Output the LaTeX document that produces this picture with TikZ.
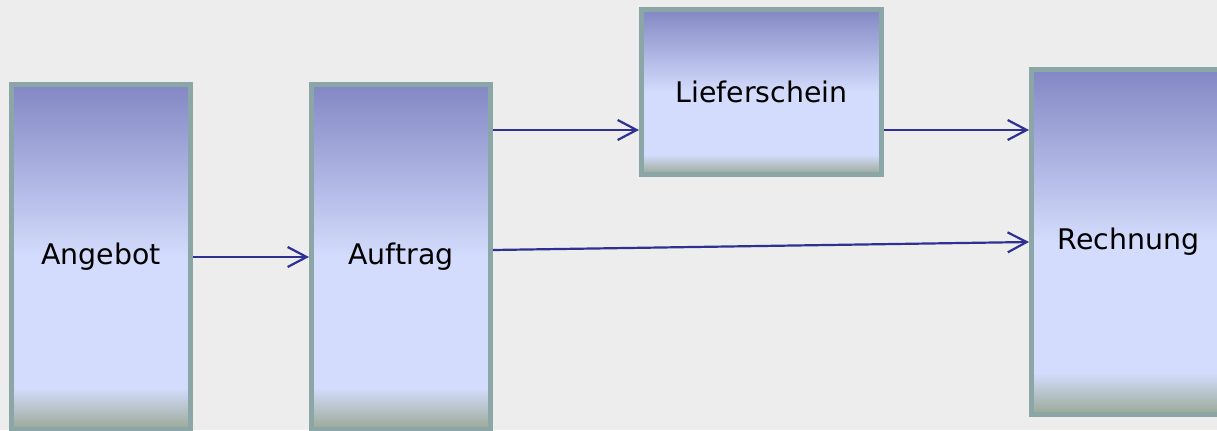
\documentclass[tikz,border=0pt]{standalone}
\usepackage{fontspec}
\setmainfont{DejaVu Sans}
\usetikzlibrary{arrows.meta}

\definecolor{sfondo}{HTML}{EDEDED}
\definecolor{bordo}{HTML}{8AA6A6}
\definecolor{freccia}{HTML}{2E3192}
\definecolor{cima}{HTML}{8387C4}
\definecolor{chiaro}{HTML}{D3DCFC}
\definecolor{fondo}{HTML}{9AA896}

% sfumatura dei riquadri: viola in alto, chiaro al centro, verde-grigio in basso
\pgfdeclareverticalshading{documento}{100bp}{color(0bp)=(fondo); color(25bp)=(fondo);
  color(31bp)=(chiaro); color(50bp)=(chiaro); color(75bp)=(cima); color(100bp)=(cima)}

\tikzset{
  doc/.style={draw=bordo, line width=2.5pt, shading=documento, inner sep=0pt,
    minimum width=89.5pt, minimum height=172.5pt,
    font=\fontsize{14.2}{17}\selectfont},
  flusso/.style={draw=freccia, line width=1.1pt, -{Straight Barb[length=9.5pt,width=10pt]}}
}

\begin{document}
\begin{tikzpicture}[x=1pt, y=1pt]
        % Sfondo
        \useasboundingbox (0,0) rectangle (608.5,215);
        \clip (0,0) rectangle (608.5,215);
        \fill[sfondo] (0,0) rectangle (608.5,215);

        % Documenti
        \node[doc] (Angebot) at (50.5,86.5) {Angebot};
        \node[doc] (Auftrag) at (200.5,86.5) {Auftrag};
        \node[doc, minimum width=120pt, minimum height=82.5pt] (Lieferschein) at (380.75,169) {Lieferschein};
        \node[doc, minimum width=97pt] (Rechnung) at (564.25,94) {Rechnung};

        % Frecce
        \draw[flusso] (Angebot) -- (Auftrag);
        \coordinate (ingresso) at ([yshift=-19pt]Lieferschein.west);
        \draw[flusso] (Auftrag.east |- ingresso) -- (ingresso);
        \coordinate (uscita) at ([yshift=-19pt]Lieferschein.east);
        \draw[flusso] (uscita) -- (Rechnung.west |- uscita);
        \draw[flusso] ([yshift=3.5pt]Auftrag.east) -- (Rechnung.west);

    \end{tikzpicture}
\end{document}
